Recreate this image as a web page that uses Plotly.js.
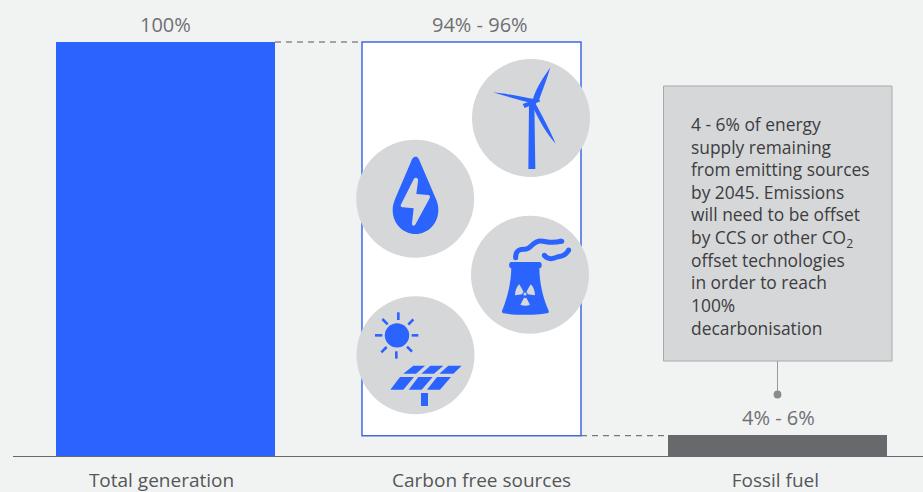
<!DOCTYPE html>
<html><head><meta charset="utf-8">
<script src="https://cdn.plot.ly/plotly-3.0.1.min.js"></script>
<style>html,body{margin:0;padding:0;background:#f1f3f2;overflow:hidden}</style>
</head><body><div id="chart" style="width:923px;height:492px"></div>
<script>
const categories = ["Total generation", "Carbon free sources", "Fossil fuel"];
const barValues = [100, 95.1, 5.1];
const barBases = [0, 4.9, 0];
const barLabels = ["100%", "94% - 96%", "4% - 6%"];
const noteLines = ["4 - 6% of energy","supply remaining","from emitting sources","by 2045. Emissions","will need to be offset","by CCS or other CO<sub>2</sub>","offset technologies","in order to reach","100%","decarbonisation"];
const tickPositions = [-0.013, 1.033, 1.993];
const labelShifts = [0, 8, 1];

const BLUE = "#2b63ff", CIRCLE = "#d6d7d9", FONT = "'Open Sans', Lato, sans-serif";
const W = 923, H = 492, ML = 13, MB = 36, PW = W - ML, PH = H - MB;
const bw = 0.7157;
const px = x => (x - ML) / PW, py = y => (PH - y) / PH;

// icon outlines are written in zoomed-crop units: page = origin + z/3
function zpath(ox, oy, d) {
  return d.replace(/(-?[\d.]+) (-?[\d.]+)/g, (m, a, b) =>
    px(ox + a / 3).toFixed(5) + "," + py(oy + b / 3).toFixed(5));
}
const shapes = [];
const add = (ox, oy, d, fill) => shapes.push({type:"path", xref:"paper", yref:"paper", path:zpath(ox,oy,d), fillcolor:fill||BLUE, line:{width:0}, layer:"above"});
const stroke = (ox, oy, d, w) => shapes.push({type:"path", xref:"paper", yref:"paper", path:zpath(ox,oy,d), fillcolor:"rgba(0,0,0,0)", line:{color:BLUE,width:w}, layer:"above"});
const disc = (cx, cy, r, fill) => shapes.push({type:"circle", xref:"paper", yref:"paper", x0:px(cx-r), x1:px(cx+r), y0:py(cy+r), y1:py(cy-r), fillcolor:fill, line:{width:0}, layer:"above"});

// dashed connectors (data-anchored)
shapes.push({type:"line", xref:"x", yref:"y", x0:bw/2, x1:1-bw/2, y0:100, y1:100, line:{color:"#55565a",width:1.2,dash:"6px,5px"}, layer:"below"});
shapes.push({type:"line", xref:"x", yref:"y", x0:1+bw/2, x1:2-bw/2, y0:barBases[1], y1:barBases[1], line:{color:"#77787b",width:1.2,dash:"6px,5px"}, layer:"below"});

// icon circles
disc(531,118,59,CIRCLE); disc(415.2,198.7,59,CIRCLE); disc(530,274.7,59,CIRCLE); disc(415.5,355.2,59,CIRCLE);

// wind turbine
const A=[350,40];
add(...A,"M535 387 L537 195 L553 195 L556 387 Z");
add(...A,"M548 182 C555 150 575 120 601 82 C592 115 578 150 566 182 Z");
add(...A,"M429 157 C465 160 510 170 550 177 L546 190 C510 181 465 168 429 157 Z");
add(...A,"M556 190 C575 225 600 270 617 311 C590 280 565 240 548 198 Z");
add(...A,"M518 192 L565 175 L571 184 L524 204 Z");
disc(350+548/3,40+187/3,3.6,BLUE);

// water drop + bolt
add(...A,"M197 350 C205 350 207 358 210 365 L255 470 C262 485 265 495 265 510 C265 550 235 582 197 582 C158 582 128 550 128 510 C128 495 132 485 138 470 L183 365 C186 357 189 350 197 350 Z");
add(...A,"M197 413 C203 413 205 418 204 424 L199 462 L235 465 C241 466 241 472 238 476 L197 552 C193 560 185 558 186 550 L191 505 L158 502 C152 501 150 496 154 491 L190 420 C192 415 194 413 197 413 Z",CIRCLE);

// nuclear plant
const B=[350,210];
add(...B,"M484 156 L569 156 C577 156 577 175 569 175 L484 175 C475 175 475 156 484 156 Z");
add(...B,"M484 170 C484 220 470 270 456 303 C455 308 458 310 462 310 C500 316 555 316 590 310 C596 309 598 305 595 300 C580 265 568 220 568 170 Z");
add(...B,"M495 256 C495 242 500 230 508 223 L521 246 C518 248 517 250 517 253 Z",CIRCLE);
add(...B,"M555 256 C555 242 550 230 542 223 L529 246 C532 248 533 250 533 253 Z",CIRCLE);
add(...B,"M511 284 L522 263 C524 264 527 264 529 263 L540 284 C532 288 519 288 511 284 Z",CIRCLE);
disc(350+525/3,210+252/3,1.5,CIRCLE);
stroke(...B,"M497 142 C497 122 510 116 525 118 C542 118 548 93 572 93 C590 93 600 103 635 93",5);
stroke(...B,"M583 136 C595 152 612 145 625 140 C640 138 650 132 656 120",5);
disc(350+497/3,210+143/3,2.5,BLUE); disc(350+635/3,210+94/3,2.5,BLUE); disc(350+583/3,210+136/3,2.5,BLUE); disc(350+656/3,210+120/3,2.5,BLUE);

// solar panel + sun
disc(350+141/3,210+376/3,12.2,BLUE);
[[145,307,145,330],[185,376,205,376],[139,424,139,446],[75,376,97,376],[97,327,113,343],[190,328,175,344],[94,427,110,411],[186,425,171,410]]
  .forEach(r => stroke(...B,`M${r[0]} ${r[1]} L${r[2]} ${r[3]}`,2.6));
add(...B,"M190 467 L225 467 L198 491 L160 491 Z");
add(...B,"M241 467 L280 467 L252 491 L214 491 Z");
add(...B,"M295 467 L335 467 L310 491 L268 491 Z");
add(...B,"M150 501 L192 501 L160 539 L121 539 Z");
add(...B,"M205 501 L248 501 L215 539 L176 539 Z");
add(...B,"M261 501 L303 501 L270 539 L231 539 Z");
add(...B,"M213 549 L234 549 L234 588 L213 588 Z");

// note box and connector
shapes.push({type:"rect", xref:"paper", yref:"paper", x0:px(663.5), x1:px(892), y0:py(361), y1:py(86), fillcolor:CIRCLE, line:{color:"#a9aaac",width:1}, layer:"above"});
shapes.push({type:"line", xref:"paper", yref:"paper", x0:px(777.5), x1:px(777.5), y0:py(361), y1:py(394), line:{color:"#98999b",width:1}, layer:"above"});
disc(777.5,394.5,3.9,"#8a8b8e");

const trace = {
  type:"bar", x:[0,1,2], y:barValues, base:barBases, width:bw,
  cliponaxis:false,
  marker:{color:[BLUE,"#ffffff","#68696d"], line:{color:["rgba(0,0,0,0)","#3f69e6","rgba(0,0,0,0)"],width:[0,1.5,0]}},
  hoverinfo:"skip"
};
const labelAnn = barLabels.map((t,i)=>({xref:"x",yref:"y",x:i,y:barValues[i]+barBases[i],yanchor:"bottom",xshift:labelShifts[i],yshift:2,showarrow:false,
  text:t,font:{family:FONT,size:20,color:"#6f7073"}}));
const layout = {
  width:W, height:H, margin:{l:ML,r:0,t:0,b:MB,pad:0},
  paper_bgcolor:"#f1f3f2", plot_bgcolor:"#f1f3f2", showlegend:false,
  xaxis:{range:[(ML-165.5)/306,(W-165.5)/306], tickvals:tickPositions, ticktext:categories, ticks:"", showgrid:false, zeroline:false,
    showline:true, linecolor:"#66676a", linewidth:1.2, tickfont:{family:FONT,size:19,color:"#55565a"}, ticklabelstandoff:7},
  yaxis:{range:[0,PH/4.14], visible:false, showgrid:false, zeroline:false},
  shapes,
  annotations:labelAnn.concat([{xref:"paper",yref:"paper",x:px(689),y:py(110),xanchor:"left",yanchor:"top",align:"left",showarrow:false,
    text:noteLines.join("<br>"),font:{family:FONT,size:17.4,color:"#3c3d40"}}])
};
Plotly.newPlot("chart",[trace],layout,{displayModeBar:false,staticPlot:true});
</script></body></html>
